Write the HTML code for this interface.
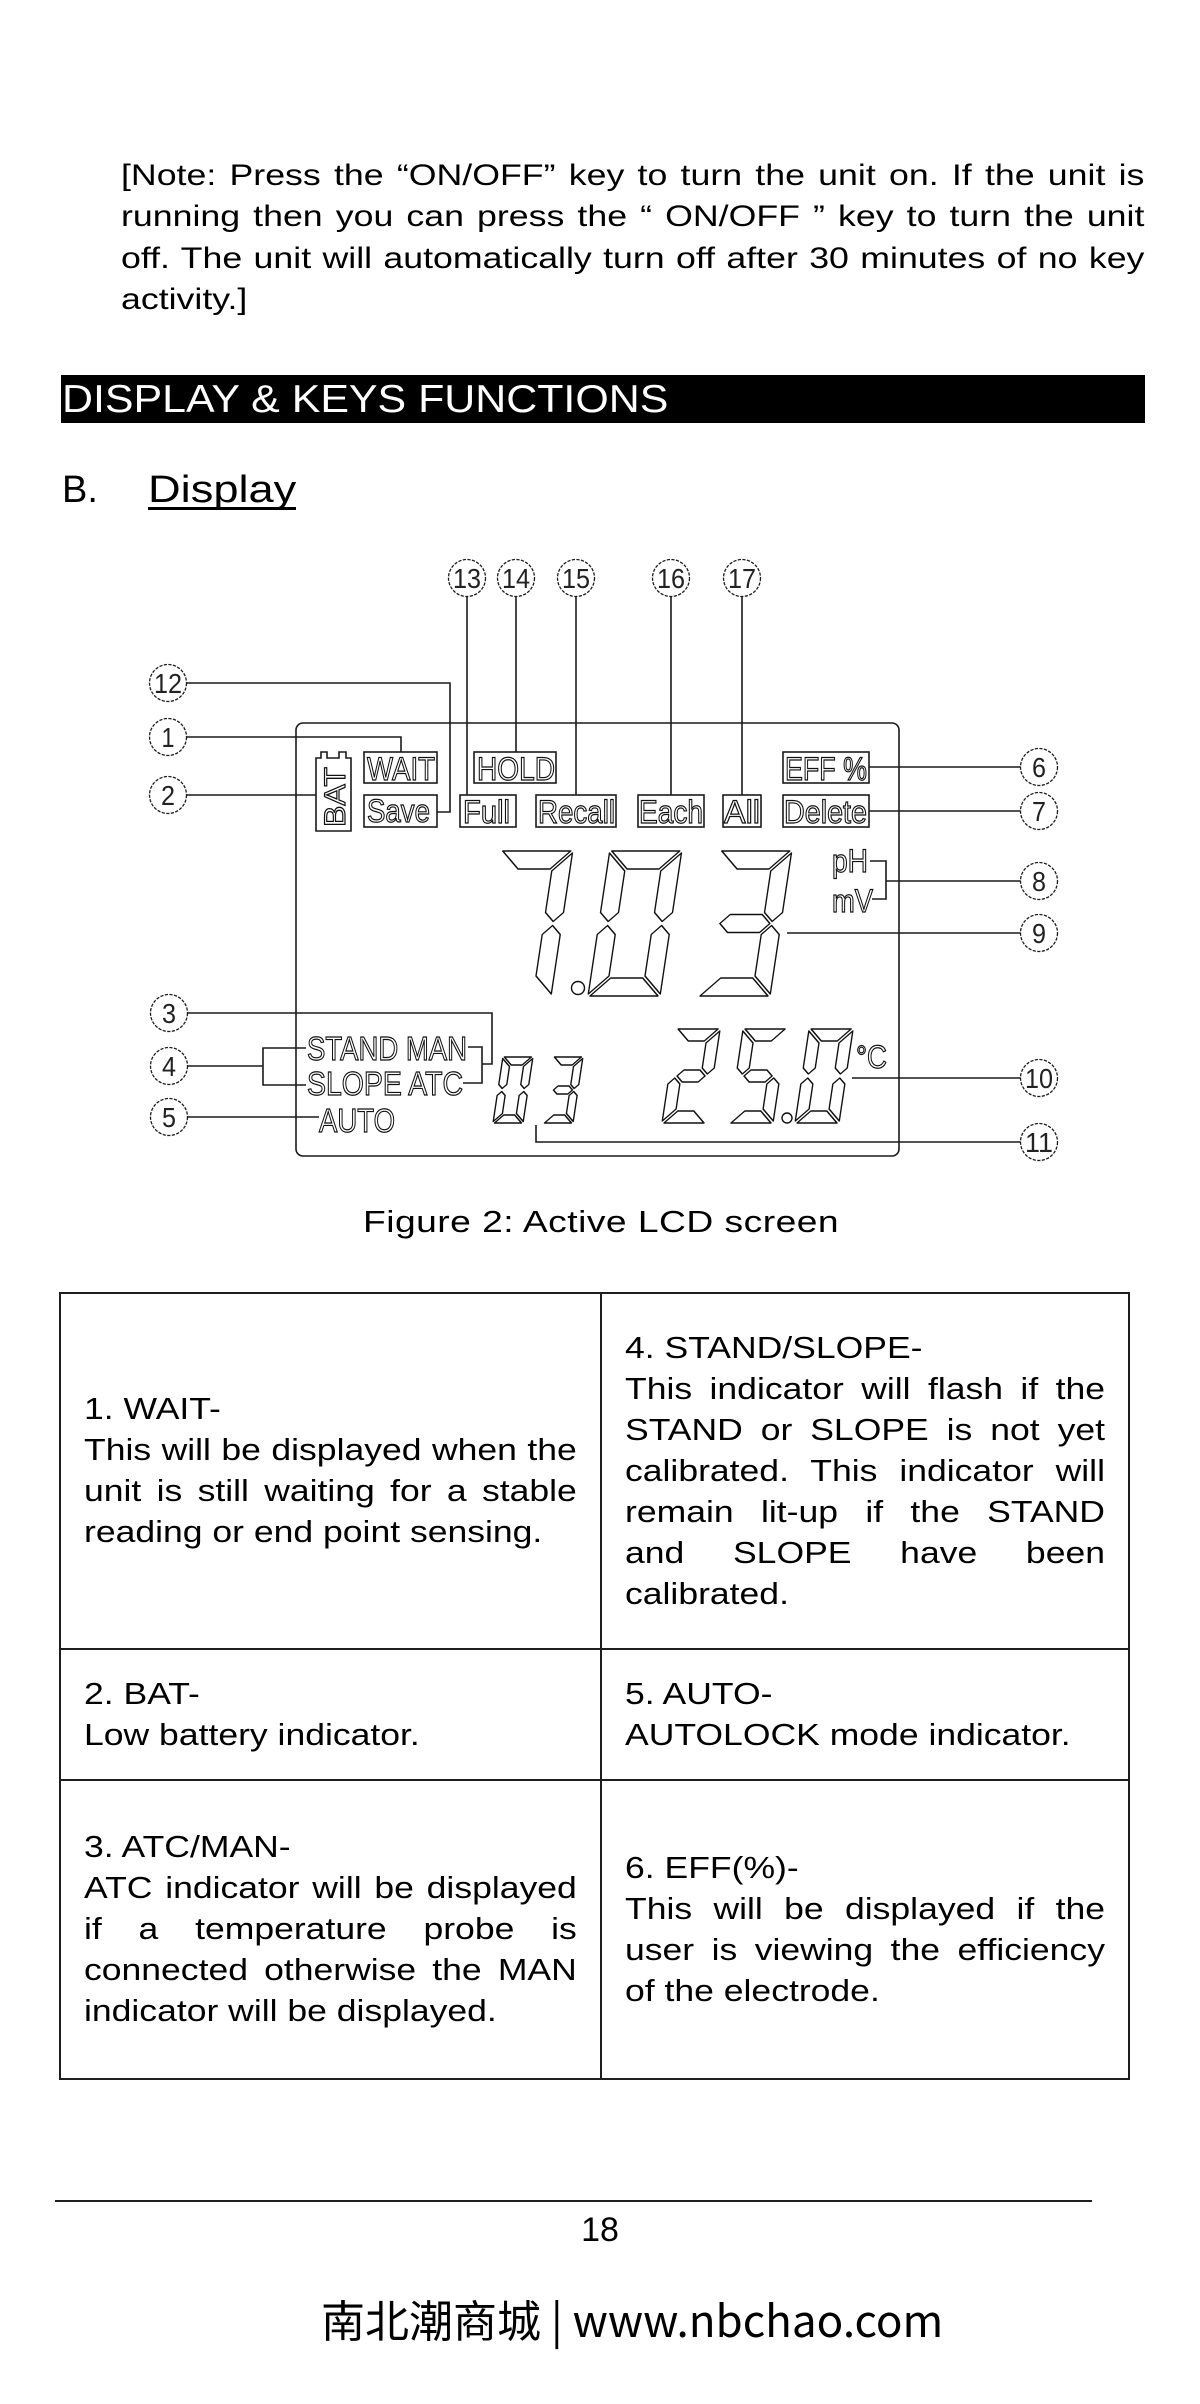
<!DOCTYPE html>
<html>
<head>
<meta charset="utf-8">
<style>
html,body{margin:0;padding:0;background:#fff;}
body{width:1200px;height:2404px;position:relative;overflow:hidden;font-family:"Liberation Sans",Arial,sans-serif;color:#000;}
.abs{position:absolute;}
.sx{transform-origin:0 0;}
.note{left:121px;top:155px;width:860px;font-size:30px;line-height:41.3px;transform:scaleX(1.19);}
.j{text-align:justify;text-align-last:justify;}
.bar{left:61px;top:375px;width:1084px;height:48px;background:#000;}
.bartxt{left:62px;top:376px;color:#fff;font-size:39px;line-height:48px;white-space:nowrap;transform:scaleX(1.1);}
.sec{top:467px;font-size:38px;line-height:46px;white-space:nowrap;}
.cap{left:363px;top:1202px;font-size:31px;line-height:40px;letter-spacing:0.4px;white-space:nowrap;transform:scaleX(1.2);}
.cell{font-size:30.5px;line-height:41px;transform:scaleX(1.165);}
.L{left:84px;width:423px;}
.R{left:625px;width:412px;}
.ln{background:#1e1e1e;}
</style>
</head>
<body>

<div class="abs sx note">
<div class="j">[Note: Press the &ldquo;ON/OFF&rdquo; key to turn the unit on. If the unit is</div>
<div class="j">running then you can press the &ldquo; ON/OFF &rdquo; key to turn the unit</div>
<div class="j">off. The unit will automatically turn off after 30 minutes of no key</div>
<div>activity.]</div>
</div>

<div class="abs bar"></div>
<div class="abs sx bartxt">DISPLAY &amp; KEYS FUNCTIONS</div>

<div class="abs sec" style="left:62px;">B.</div>
<div class="abs sx sec" style="left:148px;transform:scaleX(1.19);">Display</div>
<div class="abs" style="left:148px;top:507px;width:148px;height:3px;background:#000;"></div>

<svg class="abs" style="left:0;top:0" width="1200" height="1200" xmlns="http://www.w3.org/2000/svg">
<g fill="none" stroke="#1a1a1a" stroke-width="1.6">
<rect x="296" y="723" width="603" height="433" rx="7"/>
<path d="M186,683 H450 V812 H437"/>
<path d="M186,737 H401 V752"/>
<path d="M187,795 H316"/>
<path d="M467,597 V795"/>
<path d="M516,597 V752"/>
<path d="M576,597 V795"/>
<path d="M671,597 V795"/>
<path d="M742,597 V795"/>
<path d="M869,767 H1021"/>
<path d="M869,811 H1021"/>
<path d="M870,861 H886 V899 H872"/>
<path d="M886,881 H1021"/>
<path d="M787,933 H1021"/>
<path d="M852,1078 H1021"/>
<path d="M536,1125 V1142 H1021"/>
<path d="M187,1013 H492 V1064 H482"/>
<path d="M468,1047 H482 V1083 H463"/>
<path d="M187,1066 H263"/>
<path d="M306,1048 H263 V1085 H306"/>
<path d="M187,1117 H319"/>
<rect x="364" y="752" width="73" height="31"/>
<rect x="364" y="795" width="73" height="32"/>
<rect x="474" y="752" width="82" height="31"/>
<rect x="460" y="795" width="56" height="32"/>
<rect x="536" y="795" width="80" height="32"/>
<rect x="638" y="795" width="66" height="32"/>
<rect x="723" y="795" width="38" height="32"/>
<rect x="783" y="752" width="86" height="31"/>
<rect x="783" y="795" width="86" height="32"/>
<path d="M316,758 V831 H351 V758 H346 V752 H339 V758 H327 V752 H321 V758 Z"/>
</g>

<g fill="#fff" stroke="#1e1e1e" stroke-width="1.3" stroke-dasharray="3.2 1.4">
<circle cx="168" cy="683" r="18.5"/>
<circle cx="168" cy="737" r="18.5"/>
<circle cx="168" cy="795" r="18.5"/>
<circle cx="169" cy="1013" r="18.5"/>
<circle cx="169" cy="1066" r="18.5"/>
<circle cx="169" cy="1117" r="18.5"/>
<circle cx="467" cy="578" r="18.5"/>
<circle cx="516" cy="578" r="18.5"/>
<circle cx="576" cy="578" r="18.5"/>
<circle cx="671" cy="578" r="18.5"/>
<circle cx="742" cy="578" r="18.5"/>
<circle cx="1039" cy="767" r="18.5"/>
<circle cx="1039" cy="811" r="18.5"/>
<circle cx="1039" cy="881" r="18.5"/>
<circle cx="1039" cy="933" r="18.5"/>
<circle cx="1039" cy="1078" r="18.5"/>
<circle cx="1039" cy="1142" r="18.5"/>
</g>

<g font-family="Liberation Sans, Arial, sans-serif" font-size="28" fill="#222" text-anchor="middle">
<text x="168" y="693" textLength="28" lengthAdjust="spacingAndGlyphs">12</text>
<text x="168" y="747" textLength="13" lengthAdjust="spacingAndGlyphs">1</text>
<text x="168" y="805" textLength="14" lengthAdjust="spacingAndGlyphs">2</text>
<text x="169" y="1023" textLength="14" lengthAdjust="spacingAndGlyphs">3</text>
<text x="169" y="1076" textLength="14" lengthAdjust="spacingAndGlyphs">4</text>
<text x="169" y="1127" textLength="14" lengthAdjust="spacingAndGlyphs">5</text>
<text x="467" y="588" textLength="28" lengthAdjust="spacingAndGlyphs">13</text>
<text x="516" y="588" textLength="28" lengthAdjust="spacingAndGlyphs">14</text>
<text x="576" y="588" textLength="28" lengthAdjust="spacingAndGlyphs">15</text>
<text x="671" y="588" textLength="28" lengthAdjust="spacingAndGlyphs">16</text>
<text x="742" y="588" textLength="28" lengthAdjust="spacingAndGlyphs">17</text>
<text x="1039" y="777" textLength="14" lengthAdjust="spacingAndGlyphs">6</text>
<text x="1039" y="821" textLength="14" lengthAdjust="spacingAndGlyphs">7</text>
<text x="1039" y="891" textLength="14" lengthAdjust="spacingAndGlyphs">8</text>
<text x="1039" y="943" textLength="14" lengthAdjust="spacingAndGlyphs">9</text>
<text x="1039" y="1088" textLength="28" lengthAdjust="spacingAndGlyphs">10</text>
<text x="1039" y="1152" textLength="28" lengthAdjust="spacingAndGlyphs">11</text>
</g>

<g font-family="Liberation Sans, Arial, sans-serif" font-size="32" fill="none" stroke="#111" stroke-width="1.2">
<text x="367" y="780" textLength="68" lengthAdjust="spacingAndGlyphs">WAIT</text>
<text x="367" y="822" textLength="63" lengthAdjust="spacingAndGlyphs">Save</text>
<text x="477" y="780" textLength="78" lengthAdjust="spacingAndGlyphs">HOLD</text>
<text x="463" y="823" textLength="47" lengthAdjust="spacingAndGlyphs">Full</text>
<text x="538" y="823" textLength="77" lengthAdjust="spacingAndGlyphs">Recall</text>
<text x="639" y="823" textLength="64" lengthAdjust="spacingAndGlyphs">Each</text>
<text x="724" y="823" textLength="36" lengthAdjust="spacingAndGlyphs">All</text>
<text x="785" y="780" textLength="82" lengthAdjust="spacingAndGlyphs">EFF %</text>
<text x="784" y="823" textLength="83" lengthAdjust="spacingAndGlyphs">Delete</text>
<text x="832" y="872" textLength="36" lengthAdjust="spacingAndGlyphs">pH</text>
<text x="832" y="912" textLength="41" lengthAdjust="spacingAndGlyphs">mV</text>
<text x="307" y="1060" font-size="33" textLength="160" lengthAdjust="spacingAndGlyphs">STAND MAN</text>
<text x="307" y="1095" font-size="33" textLength="156" lengthAdjust="spacingAndGlyphs">SLOPE ATC</text>
<text x="319" y="1132" font-size="33" textLength="76" lengthAdjust="spacingAndGlyphs">AUTO</text>
<text x="856" y="1068" textLength="31" lengthAdjust="spacingAndGlyphs">°C</text>
<text transform="translate(345,827) rotate(-90)" font-size="30" textLength="60" lengthAdjust="spacingAndGlyphs">BAT</text>
</g>

<g fill="#fff" stroke="#111" stroke-width="1.4" stroke-linejoin="round">
<g transform="translate(500.75,851) skewX(-8.53)">
<polygon points="2,0 70,0 52,18 20,18"/>
<polygon points="72,2 54,20 54,61.5 63,70.5 72,61.5"/>
<polygon points="72,83.5 63,74.5 54,83.5 54,125 72,143"/>
</g>
<g transform="translate(609.75,851) skewX(-8.53)">
<polygon points="2,0 70,0 52,18 20,18"/>
<polygon points="72,2 54,20 54,61.5 63,70.5 72,61.5"/>
<polygon points="72,83.5 63,74.5 54,83.5 54,125 72,143"/>
<polygon points="2,145 70,145 52,127 20,127"/>
<polygon points="0,83.5 9,74.5 18,83.5 18,125 0,143"/>
<polygon points="0,2 18,20 18,61.5 9,70.5 0,61.5"/>
</g>
<g transform="translate(719.75,851) skewX(-8.53)">
<polygon points="2,0 70,0 52,18 20,18"/>
<polygon points="72,2 54,20 54,61.5 63,70.5 72,61.5"/>
<polygon points="72,83.5 63,74.5 54,83.5 54,125 72,143"/>
<polygon points="2,145 70,145 52,127 20,127"/>
<polygon points="11,72.5 20,63.5 52,63.5 61,72.5 52,81.5 20,81.5"/>
</g>
<circle cx="578" cy="988" r="6.5"/>

<g transform="translate(502.9,1057) skewX(-8.53)">
<polygon points="1.5,0 28.5,0 20.5,8 9.5,8"/>
<polygon points="30,1.5 22,9.5 22,27.5 26,31.5 30,27.5"/>
<polygon points="30,38.5 26,34.5 22,38.5 22,56.5 30,64.5"/>
<polygon points="1.5,66 28.5,66 20.5,58 9.5,58"/>
<polygon points="0,38.5 4,34.5 8,38.5 8,56.5 0,64.5"/>
<polygon points="0,1.5 8,9.5 8,27.5 4,31.5 0,27.5"/>
</g>
<g transform="translate(552.9,1057) skewX(-8.53)">
<polygon points="1.5,0 28.5,0 20.5,8 9.5,8"/>
<polygon points="30,1.5 22,9.5 22,27.5 26,31.5 30,27.5"/>
<polygon points="30,38.5 26,34.5 22,38.5 22,56.5 30,64.5"/>
<polygon points="1.5,66 28.5,66 20.5,58 9.5,58"/>
<polygon points="5.5,33 9.5,29 20.5,29 24.5,33 20.5,37 9.5,37"/>
</g>

<g transform="translate(676.1,1029) skewX(-8.53)">
<polygon points="2,0 42,0 30,12 14,12"/>
<polygon points="44,2 32,14 32,39 38,45 44,39"/>
<polygon points="8,47 14,41 30,41 36,47 30,53 14,53"/>
<polygon points="0,55 6,49 12,55 12,80 0,92"/>
<polygon points="2,94 42,94 30,82 14,82"/>
</g>
<g transform="translate(743.1,1029) skewX(-8.53)">
<polygon points="2,0 42,0 30,12 14,12"/>
<polygon points="0,2 12,14 12,39 6,45 0,39"/>
<polygon points="8,47 14,41 30,41 36,47 30,53 14,53"/>
<polygon points="44,55 38,49 32,55 32,80 44,92"/>
<polygon points="2,94 42,94 30,82 14,82"/>
</g>
<g transform="translate(809.1,1029) skewX(-8.53)">
<polygon points="2,0 42,0 30,12 14,12"/>
<polygon points="44,2 32,14 32,39 38,45 44,39"/>
<polygon points="44,55 38,49 32,55 32,80 44,92"/>
<polygon points="2,94 42,94 30,82 14,82"/>
<polygon points="0,55 6,49 12,55 12,80 0,92"/>
<polygon points="0,2 12,14 12,39 6,45 0,39"/>
</g>
<circle cx="787" cy="1118" r="5"/>
</g>
</svg>

<div class="abs sx cap">Figure 2: Active LCD screen</div>

<div class="abs ln" style="left:59px;top:1292px;width:1071px;height:2px;"></div>
<div class="abs ln" style="left:59px;top:1648px;width:1071px;height:2px;"></div>
<div class="abs ln" style="left:59px;top:1779px;width:1071px;height:2px;"></div>
<div class="abs ln" style="left:59px;top:2078px;width:1071px;height:2px;"></div>
<div class="abs ln" style="left:59px;top:1292px;width:2px;height:788px;"></div>
<div class="abs ln" style="left:600px;top:1292px;width:2px;height:788px;"></div>
<div class="abs ln" style="left:1128px;top:1292px;width:2px;height:788px;"></div>

<div class="abs sx cell L" style="top:1389px;">
<div>1. WAIT-</div>
<div class="j">This will be displayed when the</div>
<div class="j">unit is still waiting for a stable</div>
<div>reading or end point sensing.</div>
</div>
<div class="abs sx cell R" style="top:1328px;">
<div>4. STAND/SLOPE-</div>
<div class="j">This indicator will flash if the</div>
<div class="j">STAND or SLOPE is not yet</div>
<div class="j">calibrated. This indicator will</div>
<div class="j">remain lit-up if the STAND</div>
<div class="j">and SLOPE have been</div>
<div>calibrated.</div>
</div>

<div class="abs sx cell L" style="top:1674px;">
<div>2. BAT-</div>
<div>Low battery indicator.</div>
</div>
<div class="abs sx cell R" style="top:1674px;">
<div>5. AUTO-</div>
<div>AUTOLOCK mode indicator.</div>
</div>

<div class="abs sx cell L" style="top:1827px;">
<div>3. ATC/MAN-</div>
<div class="j">ATC indicator will be displayed</div>
<div class="j">if a temperature probe is</div>
<div class="j">connected otherwise the MAN</div>
<div>indicator will be displayed.</div>
</div>
<div class="abs sx cell R" style="top:1848px;">
<div>6. EFF(%)-</div>
<div class="j">This will be displayed if the</div>
<div class="j">user is viewing the efficiency</div>
<div>of the electrode.</div>
</div>

<div class="abs ln" style="left:55px;top:2200px;width:1037px;height:2px;"></div>
<div class="abs" style="left:500px;width:200px;top:2210px;text-align:center;font-size:34px;line-height:40px;">18</div>
<div class="abs" style="left:321px;top:2288px;font-family:'Noto Sans CJK SC','WenQuanYi Zen Hei',sans-serif;font-size:44px;line-height:60px;white-space:nowrap;">南北潮商城 | www.nbchao.com</div>

</body>
</html>
